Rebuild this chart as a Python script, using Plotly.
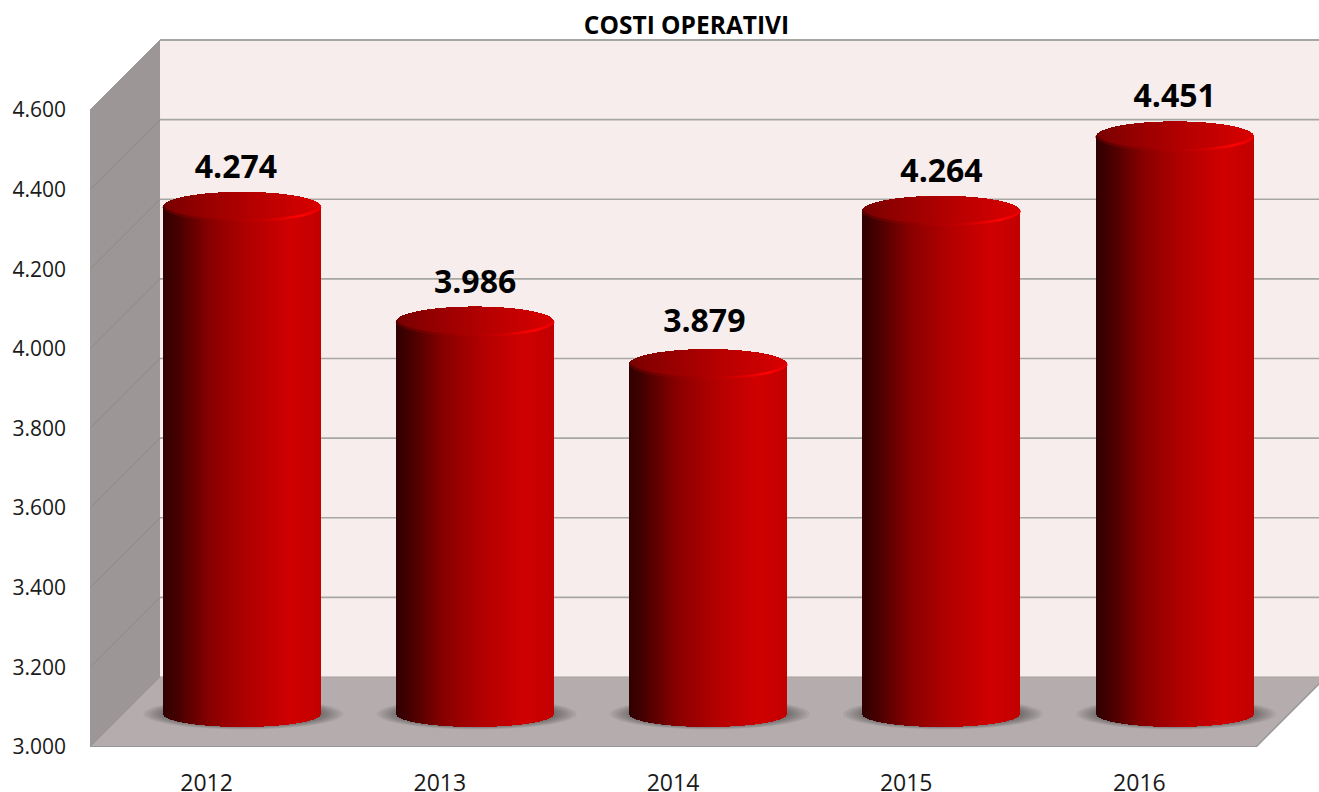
import numpy as np
import plotly.graph_objects as go

# ---- data ----
years = ["2012", "2013", "2014", "2015", "2016"]
values = [4274, 3986, 3879, 4264, 4451]
value_labels = ["4.274", "3.986", "3.879", "4.264", "4.451"]
y_ticks = [3000, 3200, 3400, 3600, 3800, 4000, 4200, 4400, 4600]
y_tick_labels = ["3.000", "3.200", "3.400", "3.600", "3.800", "4.000", "4.200", "4.400", "4.600"]
title = "COSTI OPERATIVI"

# ---- geometry of the pseudo-3D scene (pixels converted to axis units) ----
W, H = 1319, 792
LEFT, TOP, BOTTOM_PX = 90, 36, 746.7
PX_X = 233.2                       # pixels per category
PX_Y = (746.7 - 110) / 1600        # pixels per value unit
DEPTH = 70                         # wall depth in pixels
dx, dy = DEPTH / PX_X, DEPTH / PX_Y
x0 = -0.5
x_max = x0 + (W - LEFT) / PX_X
y_min = 3000
y_max = y_min + (BOTTOM_PX - TOP) / PX_Y
x_front_right = 4.5

CENTER_SHIFT = 35.3 / PX_X
BASE_LIFT = 33 / PX_Y
RX = 78.5 / PX_X
RY_TOP = 15 / PX_Y
RY_BOT = 13 / PX_Y

BODY_STOPS = [(0, (0x30, 0, 0)), (.08, (0x42, 0, 0)), (.3, (0x88, 0, 0)), (.55, (0xb2, 0, 0)),
              (.82, (0xd0, 0, 0)), (1, (0xc2, 0, 0))]
CAP_STOPS = [(0, (0x78, 0, 0)), (.25, (0x96, 0, 0)), (.6, (0xb8, 0, 0)), (1, (0xd8, 0, 0))]
RIM_STOPS = [(0, (0x50, 0, 0)), (.4, (0xa0, 0, 0)), (.65, (0xc8, 0, 0)), (.88, (0xff, 0x04, 0x04)), (1, (0xe8, 0, 0))]


def grad(stops, t):
    ts = [s[0] for s in stops]
    r = np.interp(t, ts, [s[1][0] for s in stops])
    g = np.interp(t, ts, [s[1][1] for s in stops])
    b = np.interp(t, ts, [s[1][2] for s in stops])
    return f"rgb({r:.0f},{g:.0f},{b:.0f})"


# ---- cylinders as stacks of 1px bars ----
n = 157
bx, bbase, bh, bcol = [], [], [], []
cap_x, cap_base, cap_h, cap_col = [], [], [], []
rim_x, rim_y, rim_col = [], [], []
for i, v in enumerate(values):
    c = i + CENTER_SHIFT
    top = v + BASE_LIFT
    bot = y_min + BASE_LIFT
    for k in range(n):
        t = (k + .5) / n
        u = 2 * t - 1
        arc = np.sqrt(1 - u * u)
        xs = c + u * RX
        b = bot - RY_BOT * arc
        bx.append(xs); bbase.append(b); bh.append(top - b); bcol.append(grad(BODY_STOPS, t))
        cap_x.append(xs); cap_base.append(top - RY_TOP * arc); cap_h.append(2 * RY_TOP * arc)
        cap_col.append(grad(CAP_STOPS, t))
        rim_x.append(xs); rim_y.append(top - RY_TOP * arc + 1 / PX_Y); rim_col.append(grad(RIM_STOPS, t))

fig = go.Figure()
fig.add_bar(x=bx + cap_x, y=bh + cap_h, base=bbase + cap_base, width=1.25 / PX_X,
            marker=dict(color=bcol + cap_col, line=dict(width=0)), hoverinfo="skip", showlegend=False)
fig.add_scatter(x=rim_x, y=rim_y, mode="markers", marker=dict(size=2.5, color=rim_col, line=dict(width=0)),
                hoverinfo="skip", showlegend=False)

# ---- value labels ----
label_dx = [-6, 0, -4, 0, 0]
label_dy = [37, 36, 40, 37, 37]
fig.add_scatter(x=[i + CENTER_SHIFT + d / PX_X for i, d in enumerate(label_dx)],
                y=[v + BASE_LIFT + d / PX_Y for v, d in zip(values, label_dy)],
                mode="text", text=value_labels, textposition="middle center",
                textfont=dict(family="Open Sans", size=32, color="#000000", weight="bold"),
                hoverinfo="skip", showlegend=False)


# ---- walls, floor, grid, shadows ----
def poly(pts):
    return "M" + " L".join(f"{a:.4f},{b:.3f}" for a, b in pts) + " Z"


shapes = []
def add_poly(pts, fill, line=None, lw=0):
    shapes.append(dict(type="path", path=poly(pts), xref="x", yref="y", fillcolor=fill, layer="below",
                       line=dict(color=line or "rgba(0,0,0,0)", width=lw)))


def add_line(xa, ya, xb, yb, color, lw):
    shapes.append(dict(type="line", x0=xa, y0=ya, x1=xb, y1=yb, xref="x", yref="y", layer="below",
                       line=dict(color=color, width=lw)))


top_tick = y_ticks[-1]
add_poly([(x0 + dx, y_min + dy), (x_max + 1, y_min + dy), (x_max + 1, top_tick + dy), (x0 + dx, top_tick + dy)], "#f8eded")
add_poly([(x0, y_min), (x0 + dx, y_min + dy), (x0 + dx, top_tick + dy), (x0, top_tick)], "#9c9796")
add_poly([(x0, y_min), (x0 + dx, y_min + dy), (x_front_right + dx, y_min + dy), (x_front_right, y_min)], "#b5adad")

for tv in y_ticks[1:]:
    add_line(x0 + dx, tv + dy, x_max + 1, tv + dy, "#a6a6a2", 2 if tv == top_tick else 1.6)
    if tv != top_tick:
        add_line(x0, tv, x0 + dx, tv + dy, "#8c8887", 1)
add_line(x0, top_tick, x0 + dx, top_tick + dy, "#9c9796", 1)
add_line(x0, y_min, x_front_right, y_min, "#979797", 2)
add_line(x0, y_min, x0 + dx, y_min + dy, "#979797", 1)
add_line(x_front_right, y_min, x_front_right + dx, y_min + dy, "#979797", 1.5)
add_line(x0 + dx, y_min + dy, x_max + 1, y_min + dy, "#a8a0a0", 1)

theta = np.linspace(0, 2 * np.pi, 60)
for i in range(len(values)):
    c = i + CENTER_SHIFT + 1.5 / PX_X
    for f in [1.0, .97, .94, .91, .88, .85, .82, .79, .76, .73]:
        pts = [(c + f * 100 / PX_X * np.cos(a), y_min + BASE_LIFT + f * 15.5 / PX_Y * np.sin(a)) for a in theta]
        add_poly(pts, "rgba(0,0,0,0.05)")

fig.update_layout(
    width=W, height=H, autosize=False,
    margin=dict(l=LEFT, r=0, t=TOP, b=H - BOTTOM_PX, autoexpand=False),
    paper_bgcolor="#ffffff", plot_bgcolor="#ffffff",
    barmode="overlay", bargap=0, showlegend=False, shapes=shapes,
    title=dict(text=title, x=686.5 / W, xanchor="center", xref="container", y=1 - 25 / H, yanchor="middle",
               yref="container", font=dict(family="Open Sans", size=24.5, color="#000000", weight="bold")),
    font=dict(family="Open Sans", color="#1a1a1a"),
    xaxis=dict(range=[x0, x_max], tickmode="array", tickvals=list(range(len(years))), ticktext=years,
               showgrid=False, zeroline=False, showline=False, ticks="", ticklabelstandoff=20, automargin=False,
               tickfont=dict(family="Open Sans", size=23, color="#1a1a1a")),
    yaxis=dict(range=[y_min, y_max], tickmode="array", tickvals=y_ticks, ticktext=y_tick_labels,
               showgrid=False, zeroline=False, showline=False, ticks="", ticklabelstandoff=23, automargin=False,
               tickfont=dict(family="Open Sans", size=21, color="#1a1a1a")),
)
fig.write_html("out.html", config=dict(displayModeBar=False),
               post_script="document.body.style.margin='0';document.documentElement.style.overflow='hidden';")
